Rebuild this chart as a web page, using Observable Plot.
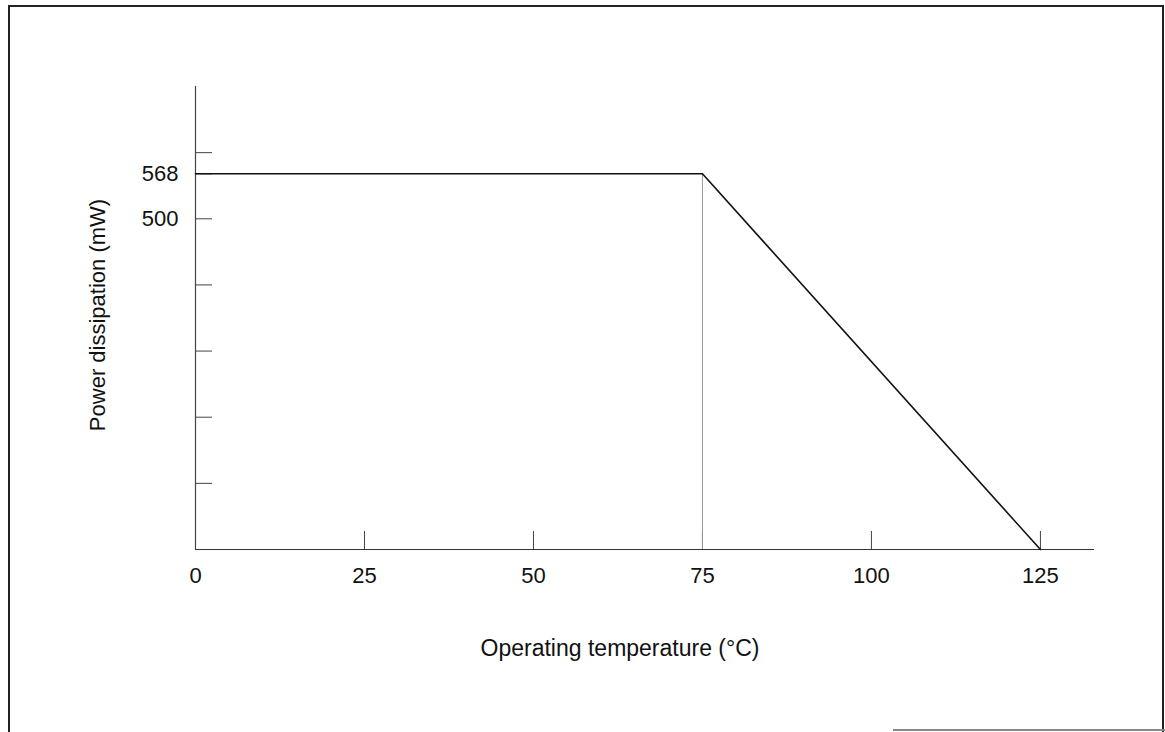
<!DOCTYPE html>
<html>
<head>
<meta charset="utf-8">
<script src="https://cdn.jsdelivr.net/npm/d3@7"></script>
<script src="https://cdn.jsdelivr.net/npm/@observablehq/plot@0.6"></script>
<style>
  html, body { margin: 0; padding: 0; background: #fff; }
  #wrap { position: relative; width: 1165px; height: 732px; overflow: hidden; }
  #border { position: absolute; left: 8px; top: 5px; width: 1152px; height: 740px;
            border-top: 2px solid #222; border-left: 2px solid #222; border-right: 2px solid #222; }
  #bottomline { position: absolute; left: 893px; top: 729px; width: 272px; height: 2px; background: #888; }
  #chart { position: absolute; left: 0; top: 0; }
  svg { font-family: "Liberation Sans", Arial, sans-serif; }
</style>
</head>
<body>
<div id="wrap">
  <div id="chart"></div>
  <div id="border"></div>
  <div id="bottomline"></div>
</div>
<script>
// Data
const temperature = [0, 75, 125];
const power = [568, 568, 0];
const xTicks = [0, 25, 50, 75, 100, 125];
const yTicks = [100, 200, 300, 400, 500, 568, 600];
const yLabeled = [500, 568];
const kneeTemp = [75];
const kneePower = [568];
const xDomain = [0, 133];
const yDomain = [0, 700];
const xTitle = "Operating temperature (°C)";
const yTitle = "Power dissipation (mW)";

const curve = temperature.map((t, i) => ({t, p: power[i]}));
const knee = kneeTemp.map((t, i) => ({t, p: kneePower[i]}));

const chart = Plot.plot({
  width: 1165,
  height: 732,
  marginLeft: 195,
  marginRight: 71,
  marginTop: 86,
  marginBottom: 183,
  style: {fontFamily: "'Liberation Sans', Arial, sans-serif", fontSize: "22px", color: "#111", background: "transparent"},
  x: {domain: xDomain, axis: null},
  y: {domain: yDomain, axis: null},
  marks: [
    // axis lines
    Plot.ruleY([0], {stroke: "#333", strokeWidth: 1.2}),
    Plot.ruleX([0], {stroke: "#444", strokeWidth: 1.2}),
    // inward ticks
    Plot.axisX({ticks: xTicks, tickSize: -18, tickFormat: null, text: null, label: null, stroke: "#444", strokeWidth: 1}),
    Plot.axisY({ticks: yTicks, tickSize: -17, tickFormat: null, text: null, label: null, stroke: "#444", strokeWidth: 1}),
    // tick labels
    Plot.axisX({ticks: xTicks, tickSize: 0, tickPadding: 18, label: null, fontSize: 22, fill: "#111"}),
    Plot.axisY({ticks: yLabeled, tickSize: 0, tickPadding: 17, label: null, fontSize: 22, fill: "#111"}),
    // vertical drop line at knee
    Plot.ruleX(knee, {x: "t", y1: 0, y2: "p", stroke: "#999", strokeWidth: 1}),
    // derating curve
    Plot.line(curve, {x: "t", y: "p", stroke: "#111", strokeWidth: 1.6}),
    // axis titles
    Plot.text([xTitle], {frameAnchor: "bottom", dx: -25, dy: 106, lineAnchor: "bottom", text: d => d, fontSize: 23, fill: "#111"}),
    Plot.text([yTitle], {frameAnchor: "left", dx: -98, dy: -3, rotate: -90, textAnchor: "middle", text: d => d, fontSize: 22, fill: "#111"})
  ]
});
document.getElementById("chart").appendChild(chart);
</script>
</body>
</html>
